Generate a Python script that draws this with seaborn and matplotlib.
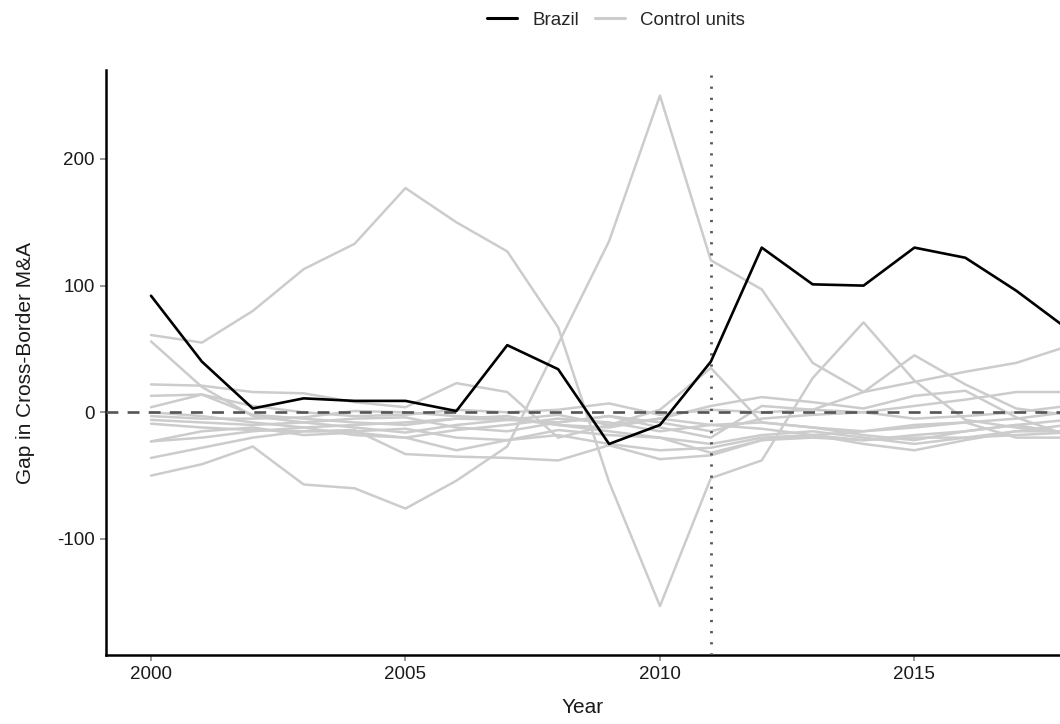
import numpy as np
import pandas as pd
import matplotlib
matplotlib.use("Agg")
import matplotlib.pyplot as plt
import seaborn as sns
from matplotlib.lines import Line2D

years = list(range(2000, 2019))

brazil = [92, 40, 3, 11, 9, 9, 1, 53, 34, -25, -10, 40, 130, 101, 100, 130, 122, 96, 66]

ctrl_a = [61, 55, 80, 113, 133, 177, 150, 127, 67, -55, -153, -52, -38, 27, 71, 25, -6, -12, -16]
ctrl_b = [-50, -41, -27, -57, -60, -76, -54, -27, 54, 135, 250, 120, 97, 39, 16, 24, 32, 39, 52]
ctrl_c = [56, 20, -3, -8, -12, -16, -10, -6, -2, -10, 2, 35, -8, -12, -18, -22, -15, -10, -17]
ctrl_d = [22, 21, 16, 15, 8, 4, 23, 16, -20, -10, -5, 5, 12, 8, 3, 13, 17, -4, -18]
ctrl_e = [13, 14, 5, 0, -3, -2, 2, 0, 2, 7, -2, 2, 0, 2, 0, 5, 10, 16, 16]
ctrl_f = [4, 14, -2, -5, -8, -10, -5, -6, -8, -3, -12, -20, 5, 2, 16, 45, 22, 3, -2]
ctrl_g = [-6, -8, -10, -8, -5, -4, -12, -15, -8, -3, -8, -15, -5, -2, 0, -5, -3, 0, 5]
ctrl_h = [-9, -12, -14, -15, -15, -13, -20, -22, -14, -18, -20, -25, -18, -15, -20, -25, -20, -18, -16]
ctrl_i = [-23, -15, -12, -18, -16, -20, -30, -22, -18, -25, -30, -28, -20, -18, -15, -12, -8, -5, 0]
ctrl_j = [-36, -28, -20, -15, -14, -33, -35, -36, -38, -26, -37, -34, -22, -20, -22, -18, -15, -10, -6]
ctrl_k = [-23, -20, -15, -12, -10, -8, -5, -3, -10, -15, -20, -32, -22, -18, -25, -30, -22, -15, -10]
ctrl_l = [0, -3, -8, -12, -18, -20, -14, -10, -5, -8, -15, -10, -8, -12, -15, -10, -8, -20, -20]
ctrl_m = [-3, -5, -5, -4, 1, 0, -3, -5, -10, -12, -5, -10, -13, -18, -22, -20, -20, -15, -15]

controls = {
    "A": ctrl_a, "B": ctrl_b, "C": ctrl_c, "D": ctrl_d, "E": ctrl_e,
    "F": ctrl_f, "G": ctrl_g, "H": ctrl_h, "I": ctrl_i, "J": ctrl_j,
    "K": ctrl_k, "L": ctrl_l, "M": ctrl_m,
}

treat_year = 2011
y_ticks = [-100, 0, 100, 200]
x_ticks = [2000, 2005, 2010, 2015]

rows = []
for name, vals in controls.items():
    for yr, v in zip(years, vals):
        rows.append({"unit": name, "year": yr, "gap": v})
ctrl_df = pd.DataFrame(rows)
br_df = pd.DataFrame({"year": years, "gap": brazil})

sns.set_theme(style="ticks")
plt.rcParams["font.family"] = ["Liberation Sans", "DejaVu Sans"]
plt.rcParams["axes.unicode_minus"] = False

fig = plt.figure(figsize=(10.6, 7.24), dpi=100)
ax = fig.add_axes([0.1, 0.0953, 0.9, 0.8080])

grey = "#cccccc"
sns.lineplot(data=ctrl_df, x="year", y="gap", units="unit", estimator=None,
             color=grey, lw=1.8, ax=ax, legend=False, zorder=2)
sns.lineplot(data=br_df, x="year", y="gap", color="black", lw=1.9, ax=ax,
             legend=False, zorder=4)

ax.axhline(0, color="#555555", lw=1.9, ls=(0, (4.5, 3.5)), zorder=3)
ax.axvline(treat_year, color="#555555", lw=2.0, ls=(0, (0.8, 3.2)), zorder=3)

ax.set_xlim(1999.116, 2017.86)
ax.set_ylim(-191.6, 270.2)
ax.set_xticks(x_ticks)
ax.set_yticks(y_ticks)
ax.tick_params(axis="both", colors="#999999", labelcolor="#1a1a1a",
               labelsize=13.5, length=4.5, width=1.4)
for s in ["top", "right"]:
    ax.spines[s].set_visible(False)
for s in ["left", "bottom"]:
    ax.spines[s].set_color("black")
    ax.spines[s].set_linewidth(1.8)

ax.set_xlabel("Year", fontsize=15, color="#1a1a1a", labelpad=11)
ax.set_ylabel("Gap in Cross-Border M&A", fontsize=15, color="#1a1a1a", labelpad=16)

handles = [Line2D([], [], color="black", lw=2.2),
           Line2D([], [], color=grey, lw=2.2)]
fig.legend(handles, ["Brazil", "Control units"], loc="center",
           bbox_to_anchor=(0.581, 0.972), ncol=2, frameon=False,
           fontsize=13.5, handlelength=1.6, columnspacing=0.85, handletextpad=0.8)

fig.savefig("out.png", dpi=100)
